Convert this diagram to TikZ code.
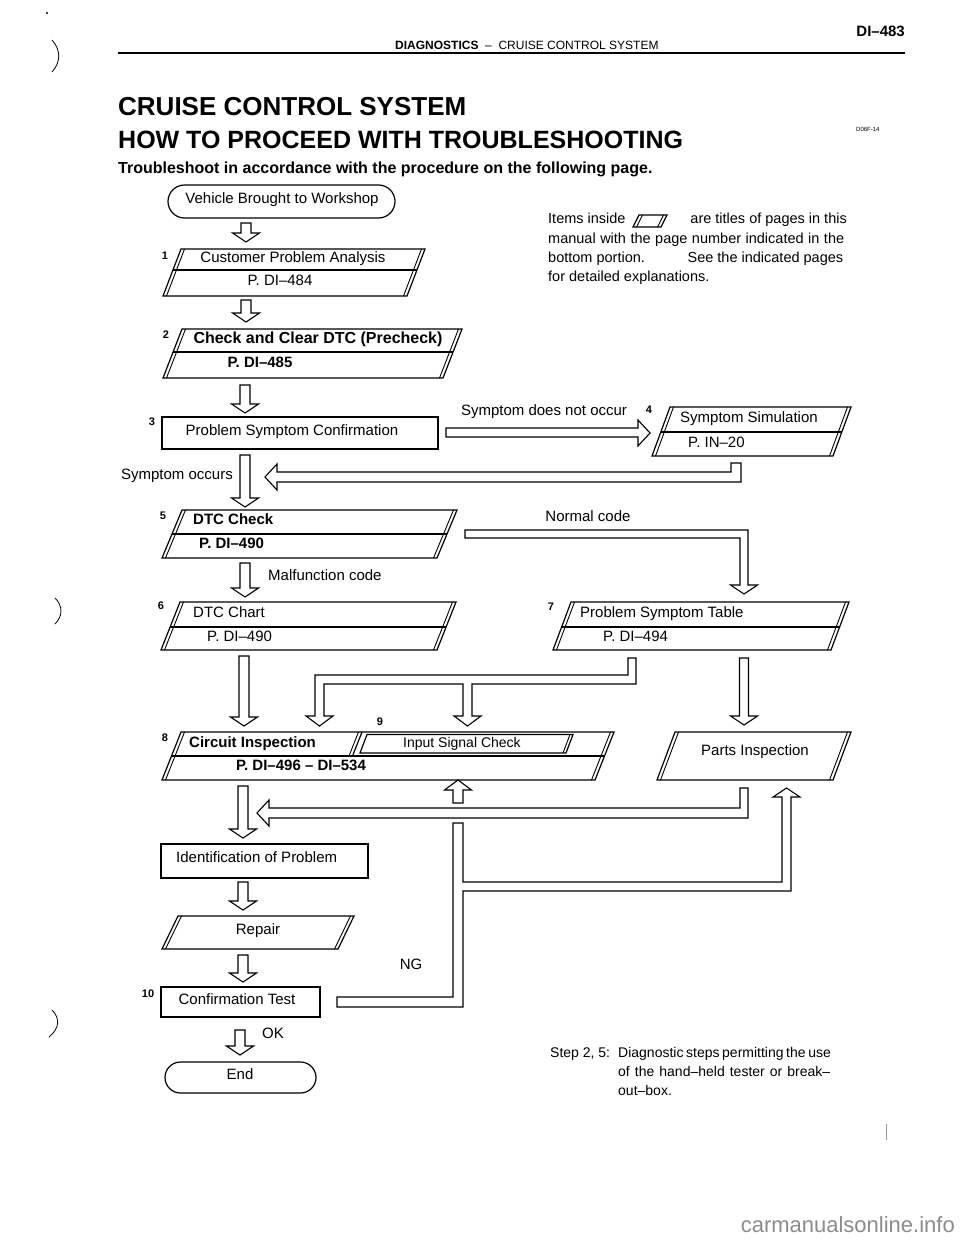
\documentclass[tikz,border=0pt]{standalone}
\usepackage{fontspec}
\setmainfont{Liberation Sans}
\usetikzlibrary{calc}
\newcommand{\flpgm}[6]{%
  \coordinate (#1-bl) at (#2,#5);
  \coordinate (#1-br) at (#3,#5);
  \coordinate (#1-tl) at ({#2+#6},#4);
  \coordinate (#1-tr) at ({#3+#6},#4);
  \draw[boxln] (#1-bl) -- (#1-tl) -- (#1-tr) -- (#1-br) -- cycle;
  \draw[dblln] ([xshift=3.5pt]#1-bl) -- ([xshift=3.5pt]#1-tl);
  \draw[dblln] ([xshift=-3.5pt]#1-br) -- ([xshift=-3.5pt]#1-tr);
}
\newcommand{\flpdiv}[2]{\draw[boxln] ($(#1-bl)!#2!(#1-tl)$) -- ($(#1-br)!#2!(#1-tr)$);}
\newcommand{\flhdown}[3]{%
  \draw[harrow] ({#1-5},#2) -- ({#1+5},#2) -- ({#1+5},{#3-9}) -- ({#1+13.5},{#3-9}) -- (#1,#3) -- ({#1-13.5},{#3-9}) -- ({#1-5},{#3-9}) -- cycle;}
\begin{document}
\begin{tikzpicture}[x=1pt,y=-1pt,
  boxln/.style={line width=1.2pt, line join=miter},
  dblln/.style={line width=0.9pt},
  harrow/.style={draw, fill=white, line width=1.1pt, line join=miter},
  bt/.style={font=\fontsize{15}{18}\selectfont, inner sep=0pt},
  bbt/.style={font=\bfseries\fontsize{15}{18}\selectfont, inner sep=0pt},
  num/.style={font=\bfseries\fontsize{11}{13}\selectfont, inner sep=0pt},
  body/.style={font=\fontsize{14.5}{19}\selectfont, inner sep=0pt},
  scanmark/.style={line width=0.8pt},
]
\useasboundingbox (0,0) rectangle (960,1250);
\fill[white] (0,0) rectangle (960,1250);

% ---------- header ----------
\node[font=\bfseries\fontsize{15}{18}\selectfont, inner sep=0pt, anchor=base east] (pg) at (905,36) {DI–483};
\node[font=\fontsize{12}{14}\selectfont, inner sep=0pt, anchor=base west] (rh) at (395,49) {\textbf{DIAGNOSTICS}\ \ –\ \ CRUISE CONTROL SYSTEM};
\draw[line width=1.8pt] (118,53) coordinate (rl) -- (905,53) coordinate (rr);
\node[font=\bfseries\fontsize{26}{30}\selectfont, inner sep=0pt, anchor=base west] (t1) at (118,115) {CRUISE CONTROL SYSTEM};
\node[font=\bfseries\fontsize{25}{29}\selectfont, inner sep=0pt, anchor=base west] (t2) at (118,148) {HOW TO PROCEED WITH TROUBLESHOOTING};
\node[font=\fontsize{6}{7}\selectfont, inner sep=0pt, anchor=base west] (code) at (856,131) {D06F-14};
\node[font=\bfseries\fontsize{16}{19}\selectfont, inner sep=0pt, anchor=base west] (t3) at (118,173) {Troubleshoot in accordance with the procedure on the following page.};

% margin marks
\fill (47,13) circle (1.1);
\draw[scanmark] (52,40) .. controls (61,50) and (61,62) .. (52,72);
\draw[scanmark] (55,598) .. controls (63,606) and (63,616) .. (55,624);
\draw[scanmark] (52,1010) .. controls (60,1018) and (60,1028) .. (49,1037);
\draw[line width=0.5pt, black!40] (886,1124) -- (886,1140);

% ---------- right notes ----------
\node[body, anchor=mid west] (n1a) at (548,221) {Items inside};
\flpgm{ic}{633}{661}{215}{227}{6}
\node[body, anchor=mid east] (n1b) at (847,221) {are titles of pages in this};
\node[body, anchor=mid west] (n2) at (548,241) {\hbox to 296pt{manual with the page number indicated in the}};
\node[body, anchor=mid west] (n3) at (548,260) {\hbox to 295pt{bottom portion.\hfill See the indicated pages}};
\node[body, anchor=mid west] (n4) at (548,279) {for detailed explanations.};

% ---------- start ----------
\draw[boxln, rounded corners=16.5pt] (168,185) rectangle (395,218);
\node[bt, anchor=mid] (s0) at (282,201) {Vehicle Brought to Workshop};
\flhdown{246}{223}{242}

% box 1
\node[num] (l1) at (165,256) {1};
\flpgm{b1}{163}{407}{249}{296}{18}
\flpdiv{b1}{0.553}
\node[bt, anchor=mid] (b1a) at (293,260) {Customer Problem Analysis};
\node[bt, anchor=mid] (b1b) at (280,283) {P. DI–484};
\flhdown{246}{300}{322}

% box 2
\node[num] (l2) at (166,335) {2};
\flpgm{b2}{163}{443}{329}{378}{19}
\flpdiv{b2}{0.53}
\node[font=\bfseries\fontsize{16}{19}\selectfont, inner sep=0pt, anchor=mid] (b2a) at (318,341) {Check and Clear DTC (Precheck)};
\node[bbt, anchor=mid] (b2b) at (260,365) {P. DI–485};
\flhdown{245}{385}{413}

% box 3
\node[num] (l3) at (152,422) {3};
\draw[boxln] (162,417) rectangle (438,449);
\node[bt, anchor=mid] (b3) at (292,433) {Problem Symptom Confirmation};

% symptom does not occur -> box 4
\node[bt, anchor=mid] (sdno) at (544,413) {Symptom does not occur};
\draw[harrow] (446,428) -- (638,428) -- (638,420) -- (650,433) -- (638,446) -- (638,437) -- (446,437) -- cycle;
\node[num] (l4) at (649,410) {4};
\flpgm{b4}{652}{833}{407}{456}{18}
\flpdiv{b4}{0.49}
\node[bt, anchor=mid] (b4a) at (749,420) {Symptom Simulation};
\node[bt, anchor=mid west] (b4b) at (688,445) {P. IN–20};
% return from box 4
\draw[harrow] (265,477) -- (277,464) -- (277,472) -- (731,472) -- (731,463) -- (741,463) -- (741,482) -- (277,482) -- (277,490) -- cycle;

% symptom occurs
\node[bt, anchor=mid east] (so) at (233,477) {Symptom occurs};
\flhdown{245}{455}{507}

% box 5
\node[num] (l5) at (163,516) {5};
\flpgm{b5}{162}{437}{510}{558}{20}
\flpdiv{b5}{0.5}
\node[bbt, anchor=mid west] (b5a) at (193,522) {DTC Check};
\node[bbt, anchor=mid west] (b5b) at (199,546) {P. DI–490};

% normal code
\node[bt, anchor=mid] (nc) at (588,519) {Normal code};
\draw[harrow] (465,530) -- (748,530) -- (748,585) -- (757.5,585) -- (744,594) -- (730.5,585) -- (740,585) -- (740,538) -- (465,538) -- cycle;

% malfunction code
\flhdown{245}{563}{597}
\node[bt, anchor=mid west] (mc) at (268,578) {Malfunction code};

% box 6
\node[num] (l6) at (161,606) {6};
\flpgm{b6}{161}{437}{602}{650}{19}
\flpdiv{b6}{0.48}
\node[bt, anchor=mid west] (b6a) at (193,615) {DTC Chart};
\node[bt, anchor=mid west] (b6b) at (207,639) {P. DI–490};

% box 7
\node[num] (l7) at (551,607) {7};
\flpgm{b7}{553}{831}{602}{650}{18}
\flpdiv{b7}{0.48}
\node[bt, anchor=mid west] (b7a) at (580,615) {Problem Symptom Table};
\node[bt, anchor=mid west] (b7b) at (603,639) {P. DI–494};

% arrows to row 8
\flhdown{244}{656}{726}
\draw[harrow] (628,658) -- (636,658) -- (636,684) -- (472,684) -- (472,716) -- (481,716) -- (467.5,726) -- (454,716) -- (463,716) -- (463,684) -- (324,684) -- (324,716) -- (333,716) -- (319.5,726) -- (306,716) -- (315,716) -- (315,675) -- (628,675) -- cycle;
\draw[harrow] (739.5,658) -- (748.5,658) -- (748.5,716) -- (757.5,716) -- (744,725) -- (730.5,716) -- (739.5,716) -- cycle;

% box 8 / 9
\node[num] (l8) at (165,738) {8};
\node[num] (l9) at (380,722) {9};
\flpgm{b8}{162}{595}{732}{780}{19}
\draw[boxln] ($(b8-bl)!0.5!(b8-tl)$) -- ($(b8-br)!0.5!(b8-tr)$);
\draw[boxln] (362,732) -- (352.5,756);
\draw[dblln] (358.5,732) -- (349,756);
\coordinate (b9-bl) at (360,753);
\coordinate (b9-br) at (566,753);
\coordinate (b9-tl) at (367,734.5);
\coordinate (b9-tr) at (573,734.5);
\draw[boxln] (b9-bl) -- (b9-tl) -- (b9-tr) -- (b9-br) -- cycle;
\draw[dblln] ([xshift=-3pt]b9-br) -- ([xshift=-3pt]b9-tr);
\node[bbt, anchor=mid west] (b8a) at (189,745) {Circuit Inspection};
\node[font=\fontsize{14}{16}\selectfont, inner sep=0pt, anchor=mid west] (b9a) at (403,745) {Input Signal Check};
\node[bbt, anchor=mid] (b8b) at (301,768) {P. DI–496 – DI–534};

% parts inspection
\flpgm{pi}{657}{833}{732}{780}{18}
\node[bt, anchor=mid] (pia) at (755,753) {Parts Inspection};

% returns
\flhdown{243}{786}{838}
\draw[harrow] (257,813) -- (269,800) -- (269,808) -- (740,808) -- (740,788) -- (748,788) -- (748,818) -- (269,818) -- (269,826) -- cycle;
\draw[harrow] (453,803) -- (453,790) -- (444.5,790) -- (458,780) -- (471.5,790) -- (463,790) -- (463,803) -- cycle;
\draw[harrow] (453,823) -- (463,823) -- (463,882) -- (782,882) -- (782,797) -- (773,797) -- (786.5,788) -- (800,797) -- (791,797) -- (791,891) -- (463,891) -- (463,1007) -- (337,1007) -- (337,997) -- (453,997) -- cycle;

% identification
\draw[boxln] (161,844) rectangle (368,878);
\node[bt, anchor=mid west] (idp) at (176,860) {Identification of Problem};
\flhdown{243}{882}{910}

% repair
\flpgm{rp}{162}{338}{916}{949}{16}
\node[bt, anchor=mid] (rpa) at (258,932) {Repair};
\flhdown{243}{955}{982}

% confirmation
\node[num] (l10) at (148,994) {10};
\draw[boxln] (161,987) rectangle (320,1017);
\node[bt, anchor=mid] (ct) at (237,1002) {Confirmation Test};
\node[bt, anchor=mid] (ng) at (411,967) {NG};
\flhdown{240}{1030}{1055}
\node[bt, anchor=mid west] (ok) at (262,1036) {OK};

% end
\draw[boxln, rounded corners=15.5pt] (165,1062) rectangle (316,1093);
\node[bt, anchor=mid] (en) at (240,1077) {End};

% step note
\node[font=\fontsize{14}{19}\selectfont, inner sep=0pt, anchor=mid west] (st) at (550,1055) {Step 2, 5:};
\node[font=\fontsize{14}{19}\selectfont, inner sep=0pt, anchor=mid west] (st1) at (618,1055) {\hbox to 212pt{Diagnostic steps permitting the use}};
\node[font=\fontsize{14}{19}\selectfont, inner sep=0pt, anchor=mid west] (st2) at (618,1074) {\hbox to 212pt{of the hand–held tester or break–}};
\node[font=\fontsize{14}{19}\selectfont, inner sep=0pt, anchor=mid west] (st3) at (618,1093) {out–box.};

% watermark
\node[font=\fontsize{22}{26}\selectfont, inner sep=0pt, anchor=mid east, text=black!45] (wm) at (955,1230) {carmanualsonline.info};
\end{tikzpicture}
\end{document}
